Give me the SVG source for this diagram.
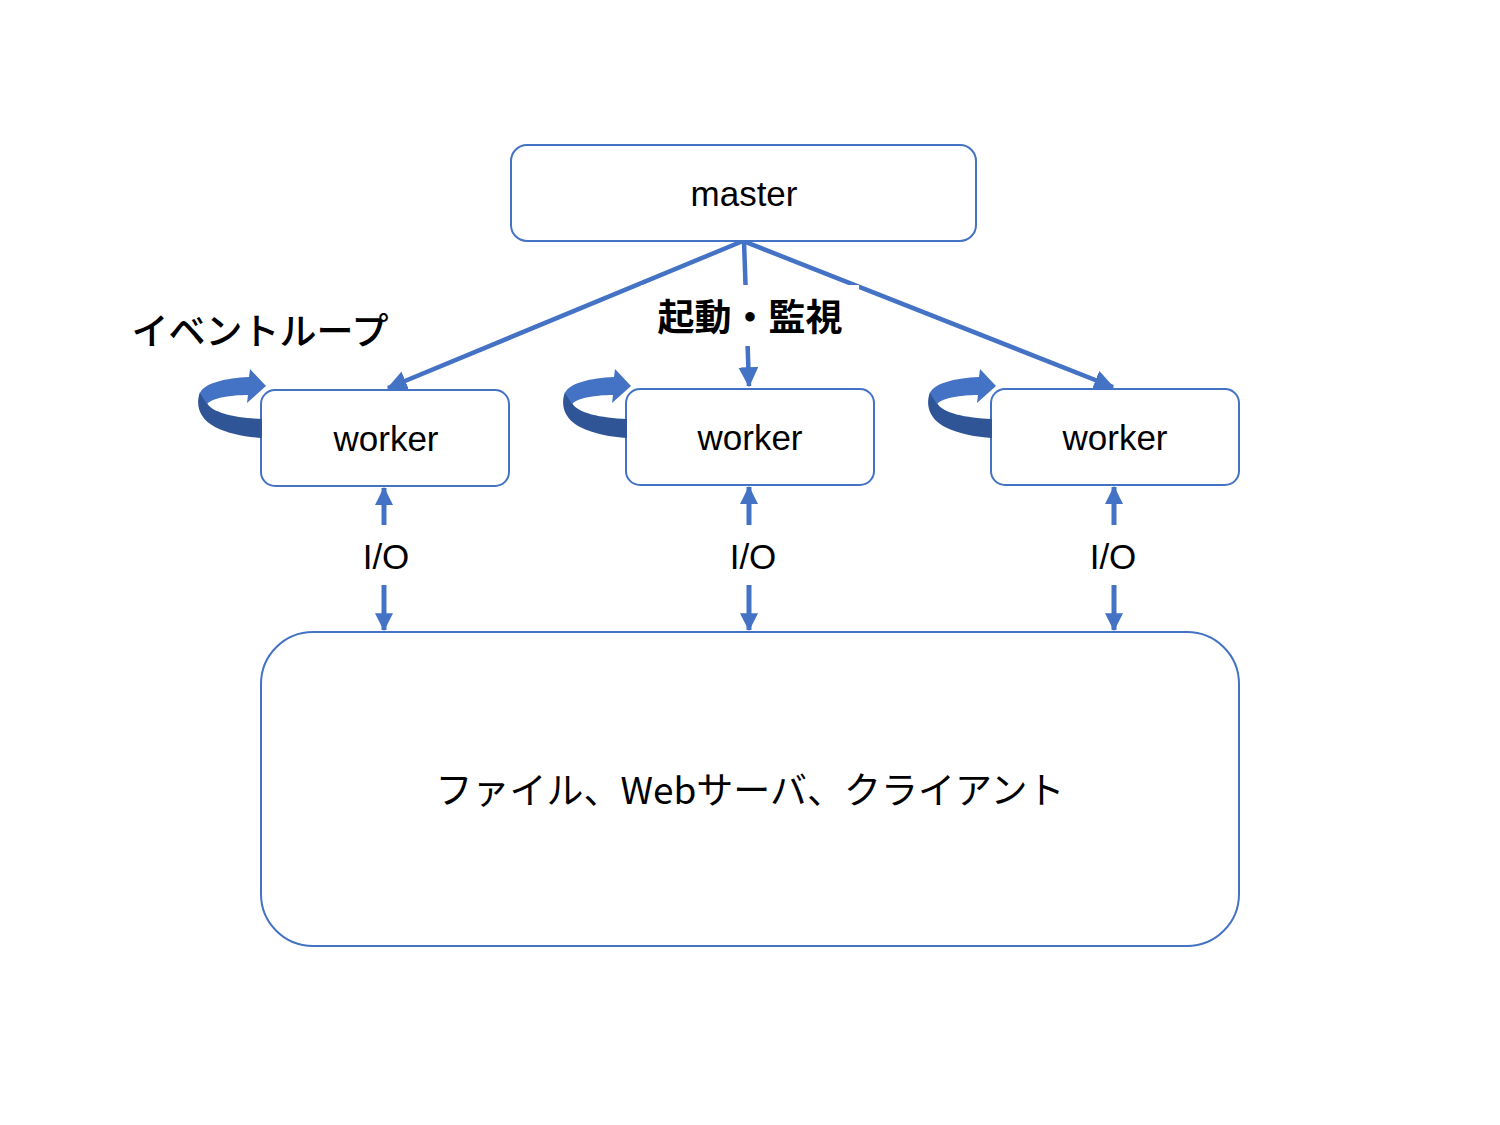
<svg xmlns="http://www.w3.org/2000/svg" width="1500" height="1125" viewBox="0 0 1500 1125">
<style>
.box{fill:#fff;stroke:#4472C4;stroke-width:2}
.lbl{font-family:"Liberation Sans","Noto Sans",sans-serif;font-size:35px;fill:#000;text-anchor:middle;dominant-baseline:central}
.jp{font-family:"Noto Sans CJK JP",sans-serif;font-size:37px;fill:#000;text-anchor:middle;dominant-baseline:central}
.con{stroke:#4472C4;stroke-width:4.5;fill:none;marker-end:url(#ah)}
.io{stroke:#4472C4;stroke-width:5;fill:none;marker-end:url(#ah2)}
.dark{fill:#2F5597}
.light{fill:#4472C4}
</style>
<defs>
<marker id="ah" markerUnits="userSpaceOnUse" markerWidth="20" markerHeight="20" refX="15" refY="8" orient="auto" viewBox="0 0 16 16">
<path d="M0,0 L16,8 L0,16 Z" fill="#4472C4"/>
</marker>
<marker id="ah2" markerUnits="userSpaceOnUse" markerWidth="18" markerHeight="18" refX="15" refY="8" orient="auto" viewBox="0 0 16 16">
<path d="M0,0 L16,8 L0,16 Z" fill="#4472C4"/>
</marker>
<g id="loopicon">
<path class="dark" d="M262 419 C236 418 212 413 207 403 L200 392 C195 406 200 419 215 427 C229 434 246 437 262 438 Z"/>
<path class="light" d="M200 393 C204 383 226 378 249 377 L250 369 L266 386 L247 403 L248 395 C231 395 212 398 207 404 Z"/>
</g>
</defs>
<rect width="1500" height="1125" fill="#fff"/>
<g id="connectors">
<line class="con" x1="743" y1="241" x2="388" y2="388"/>
<line class="con" x1="744" y1="241" x2="749" y2="386"/>
<line class="con" x1="743" y1="241" x2="1113" y2="387"/>
<rect x="641" y="285" width="218" height="61" fill="#fff"/>
<text class="jp" x="750" y="315" font-weight="bold">起動・監視</text>
<line class="io" x1="384" y1="525" x2="384" y2="488"/>
<line class="io" x1="384" y1="585" x2="384" y2="630"/>
<line class="io" x1="749" y1="525" x2="749" y2="487"/>
<line class="io" x1="749" y1="585" x2="749" y2="630"/>
<line class="io" x1="1114" y1="525" x2="1114" y2="487"/>
<line class="io" x1="1114" y1="585" x2="1114" y2="630"/>
<text class="lbl" x="386" y="556" font-size="37">I/O</text>
<text class="lbl" x="753" y="556" font-size="37">I/O</text>
<text class="lbl" x="1113" y="556" font-size="37">I/O</text>
</g>
<g id="master">
<rect class="box" x="511" y="145" width="465" height="96" rx="16"/>
<text class="lbl" x="744" y="193">master</text>
</g>
<g id="eventloop-label">
<text class="jp" x="260" y="329" font-size="37.5" font-weight="500">イベントループ</text>
</g>
<g id="worker1">
<rect class="box" x="261" y="390" width="248" height="96" rx="14"/>
<text class="lbl" x="386" y="438">worker</text>
<use href="#loopicon"/>
</g>
<g id="worker2">
<rect class="box" x="626" y="389" width="248" height="96" rx="14"/>
<text class="lbl" x="750" y="437">worker</text>
<use href="#loopicon" transform="translate(365,0)"/>
</g>
<g id="worker3">
<rect class="box" x="991" y="389" width="248" height="96" rx="14"/>
<text class="lbl" x="1115" y="437">worker</text>
<use href="#loopicon" transform="translate(730,0)"/>
</g>
<g id="resources">
<rect class="box" x="261" y="632" width="978" height="314" rx="52"/>
<text class="jp" x="750" y="788" font-size="38">ファイル、Webサーバ、クライアント</text>
</g>
</svg>
